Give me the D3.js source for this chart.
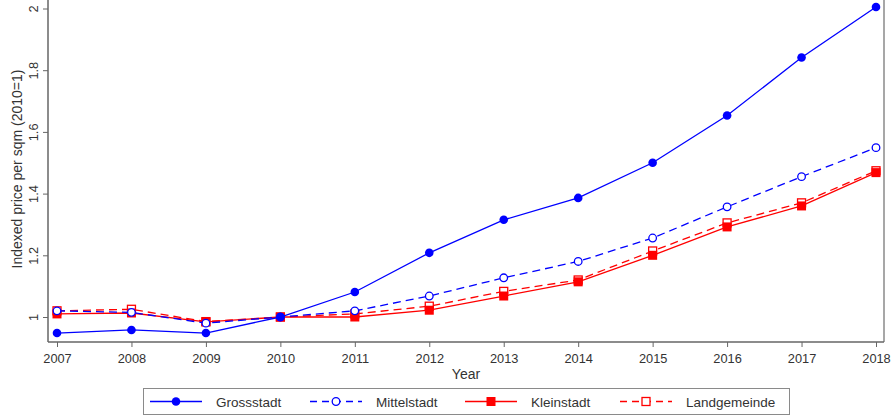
<!DOCTYPE html>
<html>
<head>
<meta charset="utf-8">
<script src="https://cdn.jsdelivr.net/npm/d3@7"></script>
<style>
  body { margin: 0; background: #fff; }
  text { font-family: "Liberation Sans", Arial, sans-serif; fill: #333; }
</style>
</head>
<body>
<svg></svg>
<script>
const width = 896;
const height = 419;

// data
const years = [2007, 2008, 2009, 2010, 2011, 2012, 2013, 2014, 2015, 2016, 2017, 2018];
const grossstadt = [0.948, 0.958, 0.948, 1.0, 1.081, 1.208, 1.315, 1.386, 1.5, 1.653, 1.841, 2.005];
const mittelstadt = [1.02, 1.015, 0.98, 1.0, 1.02, 1.068, 1.127, 1.18, 1.256, 1.357, 1.455, 1.549];
const kleinstadt = [1.01, 1.013, 0.984, 1.0, 1.0, 1.022, 1.068, 1.114, 1.2, 1.292, 1.36, 1.468];
const landgemeinde = [1.02, 1.025, 0.985, 1.0, 1.01, 1.035, 1.083, 1.12, 1.214, 1.305, 1.37, 1.474];
const yTicks = [1, 1.2, 1.4, 1.6, 1.8, 2];

const series = [
  { name: "Grossstadt", values: grossstadt, color: "#0000ff", dash: null, shape: "circle", filled: true },
  { name: "Mittelstadt", values: mittelstadt, color: "#0000ff", dash: "8,5", shape: "circle", filled: false },
  { name: "Kleinstadt", values: kleinstadt, color: "#ff0000", dash: null, shape: "square", filled: true },
  { name: "Landgemeinde", values: landgemeinde, color: "#ff0000", dash: "8,5", shape: "square", filled: false }
];

const svg = d3.select("svg")
  .attr("width", width)
  .attr("height", height);

const plotLeft = 48, plotRight = 884, plotTop = 0, plotBottom = 342;

const x = d3.scaleLinear()
  .domain([2007, 2018])
  .range([57, 876]);

const y = d3.scaleLinear()
  .domain([1, 2])
  .range([317, 8.5]);

// plot region outline (right side)
svg.append("line")
  .attr("x1", plotRight).attr("x2", plotRight)
  .attr("y1", plotTop).attr("y2", plotBottom)
  .attr("stroke", "#8a8a8a").attr("stroke-width", 1.5);

// x axis
const xAxis = svg.append("g")
  .attr("transform", "translate(0," + plotBottom + ")")
  .call(d3.axisBottom(x).tickValues(years).tickFormat(d3.format("d")).tickSize(5).tickSizeOuter(0));
xAxis.select(".domain").attr("d", "M" + plotLeft + ",0H" + plotRight).attr("stroke", "#666").attr("stroke-width", 1.5);
xAxis.selectAll(".tick line").attr("stroke", "#666");
xAxis.selectAll("text").attr("font-size", 12.8).attr("dy", "1.0em").style("fill", "#333");

// y axis
const yAxis = svg.append("g")
  .attr("transform", "translate(" + plotLeft + ",0)")
  .call(d3.axisLeft(y).tickValues(yTicks).tickFormat(d => d === 1 || d === 2 ? d : d.toFixed(1)).tickSize(5).tickSizeOuter(0));
yAxis.select(".domain").attr("d", "M0," + plotTop + "V" + plotBottom).attr("stroke", "#666").attr("stroke-width", 1.5);
yAxis.selectAll(".tick line").attr("stroke", "#666");
yAxis.selectAll(".tick text")
  .attr("x", null).attr("dy", null)
  .attr("transform", "translate(-10,0) rotate(-90)")
  .attr("text-anchor", "middle")
  .attr("font-size", 12.8)
  .style("fill", "#333");

// axis titles
svg.append("text")
  .attr("transform", "translate(22," + 169 + ") rotate(-90)")
  .attr("text-anchor", "middle")
  .attr("font-size", 14)
  .text("Indexed price per sqm (2010=1)");

svg.append("text")
  .attr("x", 466).attr("y", 379)
  .attr("text-anchor", "middle")
  .attr("font-size", 14)
  .text("Year");

const line = d3.line()
  .x((d, i) => x(years[i]))
  .y(d => y(d));

function marker(g, s, cx, cy) {
  if (s.shape === "circle") {
    g.append("circle")
      .attr("cx", cx).attr("cy", cy)
      .attr("r", s.filled ? 4.3 : 3.8)
      .attr("fill", s.filled ? s.color : "#fff")
      .attr("stroke", s.color)
      .attr("stroke-width", s.filled ? 0 : 1.3);
  } else {
    const h = s.filled ? 4.5 : 4;
    g.append("rect")
      .attr("x", cx - h).attr("y", cy - h)
      .attr("width", 2 * h).attr("height", 2 * h)
      .attr("fill", s.filled ? s.color : "#fff")
      .attr("stroke", s.color)
      .attr("stroke-width", s.filled ? 0 : 1.3);
  }
}

// draw back to front so Grossstadt sits on top
series.slice().reverse().forEach(s => {
  const g = svg.append("g");
  g.append("path")
    .datum(s.values)
    .attr("d", line)
    .attr("fill", "none")
    .attr("stroke", s.color)
    .attr("stroke-width", 1.3)
    .attr("stroke-dasharray", s.dash);
  s.values.forEach((v, i) => marker(g, s, x(years[i]), y(v)));
});

// legend
const legend = svg.append("g");
legend.append("rect")
  .attr("x", 143.5).attr("y", 388.5)
  .attr("width", 646).attr("height", 26)
  .attr("fill", "#fff")
  .attr("stroke", "#8a8a8a").attr("stroke-width", 1);

const legendX = [150, 310, 465, 620];
series.forEach((s, i) => {
  const lx = legendX[i];
  const ly = 401.5;
  legend.append("line")
    .attr("x1", lx).attr("x2", lx + 52)
    .attr("y1", ly).attr("y2", ly)
    .attr("stroke", s.color).attr("stroke-width", 1.3)
    .attr("stroke-dasharray", s.dash ? "7,5" : null);
  marker(legend, s, lx + 26, ly);
  legend.append("text")
    .attr("x", lx + 66).attr("y", ly + 5)
    .attr("font-size", 13.5)
    .text(s.name);
});
</script>
</body>
</html>
